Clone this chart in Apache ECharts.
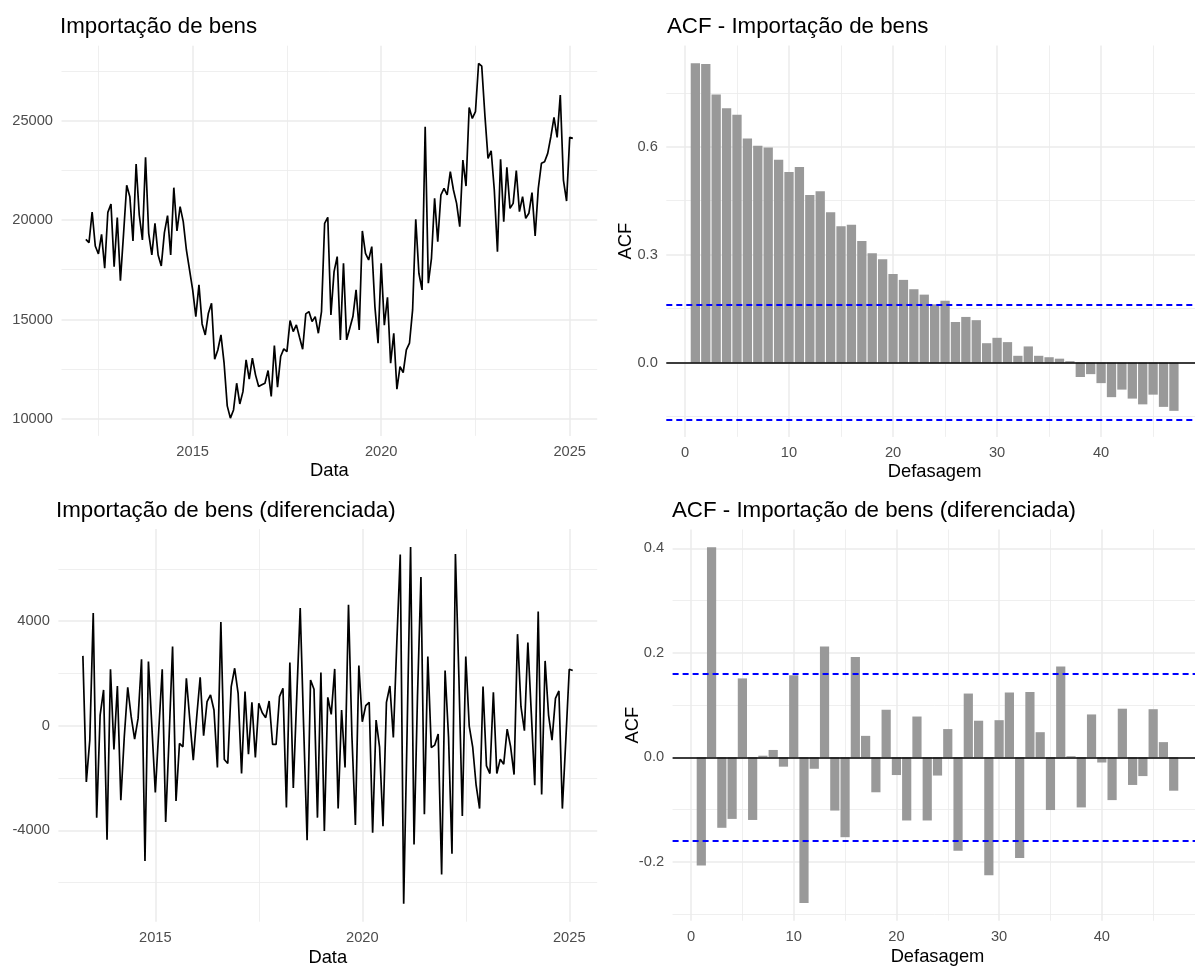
<!DOCTYPE html>
<html>
<head>
<meta charset="utf-8">
<script src="https://cdn.jsdelivr.net/npm/echarts@6/dist/echarts.min.js"></script>
<style>html,body{margin:0;padding:0;background:#fff}#c{width:1195px;height:967px}</style>
</head>
<body>
<div id="c"></div>
<script>
// ---------- DATA ----------
// Monthly series, Mar 2012 .. Feb 2025
const importStartYear = 2012, importStartMonth = 3;
const importValues = [
19029,18862,20402,18694,18292,19280,17573,20385,20804,17656,20117,16953,
19300,21741,21172,18945,22812,20251,18996,23147,19330,18242,19833,18242,
17690,19364,20218,18242,21624,19448,20670,19916,18493,17489,16485,15145,
16736,14777,14225,15313,15815,13003,13468,14225,12802,10659,10040,10452,
11795,10754,11373,12969,11998,13052,12216,11630,11714,11798,12434,11128,
13690,11597,13137,13522,13388,14945,14393,14727,14108,13505,15280,15396,
14894,15145,14308,15400,19833,20134,15229,17405,18159,13975,17824,13975,
14560,15145,16485,14476,19448,18326,17991,18661,15648,13806,17824,14710,
16116,12802,14309,11496,12634,12333,13471,13806,15480,20033,17322,16485,
24688,16820,18075,21088,18912,21256,21590,21256,22427,21507,20837,19665,
23013,21707,25658,25106,25441,27868,27734,25273,23097,23482,21507,18410,
23047,19916,22645,20586,20837,22478,20419,21172,20084,20335,21373,19196,
21590,22846,22929,23348,24185,25156,24152,26278,22009,20954,24152,24101
];
// Differenced series, Apr 2013 .. Feb 2025
const diffStartYear = 2013, diffStartMonth = 4;
const diffValues = [
2671,-2147,-550,4307,-3515,409,1367,-4358,2160,-907,1521,-2850,
-422,1470,345,-511,281,2543,-5176,2454,-38,-2556,-166,2160,
-3681,-422,3029,-2876,-677,-805,1815,217,-1316,345,1853,-383,
920,1176,601,-1598,3962,-1291,-1444,1495,2198,1240,-1828,1304,
-1086,895,-1214,856,498,307,946,-716,-716,1112,1431,-3131,
2415,-2377,1112,4498,-38,-4383,1751,1393,-3515,2032,-4026,1086,
434,2173,-3169,601,-1598,4626,-422,-3796,2300,153,767,895,
-4090,217,-805,-3847,895,1521,-447,3157,6543,-6812,-166,6837,
-4537,1112,5687,-3387,2645,-831,-741,-320,-5687,2109,-422,-4895,
6569,1879,-3451,2645,-13,-805,-2275,-3169,1495,-1534,-1828,1278,
-1828,-1278,-1470,-128,-805,-1866,3502,728,-192,3182,473,-2275,
4371,-2633,2479,409,-550,1048,1329,-3169,-550,2160,2109
];
// ACF values, lags 1..47
const acfLevel = [0.832,0.830,0.745,0.707,0.689,0.623,0.603,0.598,0.564,0.530,
0.544,0.466,0.476,0.418,0.379,0.383,0.338,0.304,0.287,0.246,
0.230,0.204,0.189,0.162,0.172,0.113,0.127,0.118,0.054,0.069,
0.057,0.019,0.045,0.019,0.015,0.011,0.004,-0.040,-0.032,-0.057,
-0.096,-0.075,-0.100,-0.116,-0.089,-0.123,-0.134];
const acfDiff = [-0.207,0.402,-0.135,-0.118,0.151,-0.120,0.003,0.014,-0.018,0.157,
-0.279,-0.022,0.212,-0.102,-0.153,0.192,0.041,-0.067,0.091,-0.034,
-0.121,0.078,-0.121,-0.035,0.054,-0.179,0.122,0.070,-0.226,0.071,
0.124,-0.193,0.125,0.048,-0.101,0.174,0.002,-0.096,0.082,-0.010,
-0.082,0.093,-0.053,-0.036,0.092,0.029,-0.064];
const ciLevel = 0.157;
const ciDiff = 0.164;

// tick labels / grid breaks
const yearMajor = [2015, 2020, 2025];
const yearMinor = [2012.5, 2017.5, 2022.5];
const levelMajor = [10000, 15000, 20000, 25000];
const levelMinor = [12500, 17500, 22500, 27500];
const diffMajor = [-4000, 0, 4000];
const diffMinor = [-6000, -2000, 2000, 6000];
const lagMajor = [0, 10, 20, 30, 40];
const lagMinor = [5, 15, 25, 35, 45];
const acfLevelMajor = [0.0, 0.3, 0.6];
const acfLevelMinor = [-0.15, 0.15, 0.45, 0.75];
const acfDiffMajor = [-0.2, 0.0, 0.2, 0.4];
const acfDiffMinor = [-0.3, -0.1, 0.1, 0.3];

const titles = ['Importação de bens', 'ACF - Importação de bens',
  'Importação de bens (diferenciada)', 'ACF - Importação de bens (diferenciada)'];

// ---------- BUILD ----------
const FONT = '"Liberation Sans", Arial, Helvetica, sans-serif';
const levelPts = importValues.map((v, i) => [importStartYear + (importStartMonth - 1 + i) / 12, v]);
const diffPts = diffValues.map((v, i) => [diffStartYear + (diffStartMonth - 1 + i) / 12, v]);
const acfLevelPts = acfLevel.map((v, i) => [i + 1, v]);
const acfDiffPts = acfDiff.map((v, i) => [i + 1, v]);

function expand(vals, extra) {
  const all = vals.concat(extra || []);
  const lo = Math.min(...all), hi = Math.max(...all), r = hi - lo;
  return [lo - 0.05 * r, hi + 0.05 * r];
}
const xLevel = expand(levelPts.map(p => p[0]));
const xDiff = expand(diffPts.map(p => p[0]));
const yLevel = expand(importValues);
const yDiff = expand(diffValues);
const xLag = expand([0.55, acfLevel.length + 0.45]);
const yAcfLevel = expand(acfLevel, [0, ciLevel, -ciLevel]);
const yAcfDiff = expand(acfDiff, [0, ciDiff, -ciDiff]);

const intFmt = v => String(Math.round(v));
const dec1 = v => (Math.abs(v) < 1e-9 ? 0 : v).toFixed(1);

function axes(dim, gridIndex, ext, majors, minors, fmt, name, nameGap) {
  const base = { type: 'value', gridIndex, min: ext[0], max: ext[1], scale: true,
    axisLine: { show: false } };
  const minor = Object.assign({}, base, {
    axisTick: { show: false, customValues: minors },
    axisLabel: { show: false },
    splitLine: { show: true, lineStyle: { color: '#ebebeb', width: 0.8 } }
  });
  const major = Object.assign({}, base, {
    axisTick: { show: false, customValues: majors },
    axisLabel: { show: true, customValues: majors, formatter: fmt, color: '#4d4d4d',
      fontSize: 14.67, fontFamily: FONT, margin: dim === 'x' ? 9 : 8.5 },
    splitLine: { show: true, lineStyle: { color: '#ebebeb', width: 1.5 } }
  });
  if (name) {
    Object.assign(major, { name, nameLocation: 'middle', nameGap, nameMoveOverlap: false,
      nameTextStyle: { color: '#000', fontSize: 18.33, fontFamily: FONT } });
  }
  if (dim === 'x') { minor.position = 'bottom'; major.position = 'bottom'; }
  else { minor.position = 'left'; major.position = 'left'; }
  return [minor, major];
}

const xAxis = [].concat(
  axes('x', 0, xLevel, yearMajor, yearMinor, intFmt, 'Data', 26.5),
  axes('x', 1, xLag, lagMajor, lagMinor, intFmt, 'Defasagem', 26),
  axes('x', 2, xDiff, yearMajor, yearMinor, intFmt, 'Data', 27),
  axes('x', 3, xLag, lagMajor, lagMinor, intFmt, 'Defasagem', 27)
);
const yAxis = [].concat(
  axes('y', 0, yLevel, levelMajor, levelMinor, intFmt),
  axes('y', 1, yAcfLevel, acfLevelMajor, acfLevelMinor, dec1, 'ACF', 31),
  axes('y', 2, yDiff, diffMajor, diffMinor, intFmt),
  axes('y', 3, yAcfDiff, acfDiffMajor, acfDiffMinor, dec1, 'ACF', 31)
);

function refLines(ci) {
  return {
    symbol: ['none', 'none'], silent: true, animation: false,
    label: { show: false }, emphasis: { disabled: true },
    data: [
      { yAxis: ci, lineStyle: { color: '#0000ff', width: 1.8, type: [6, 4] } },
      { yAxis: -ci, lineStyle: { color: '#0000ff', width: 1.8, type: [6, 4] } },
      { yAxis: 0, lineStyle: { color: '#000000', width: 1.6, type: 'solid' } }
    ]
  };
}

const option = {
  backgroundColor: '#ffffff',
  animation: false,
  title: [
    { text: titles[0], left: 60, top: 15.5 },
    { text: titles[1], left: 667, top: 15.5 },
    { text: titles[2], left: 56, top: 500 },
    { text: titles[3], left: 672, top: 500 }
  ].map(t => Object.assign(t, { padding: 0,
    textStyle: { color: '#000', fontSize: 22.3, fontWeight: 'normal', fontFamily: FONT } })),
  grid: [
    { left: 61.5, top: 45.7, width: 535.7, height: 390.2, outerBoundsMode: 'none', containLabel: false },
    { left: 666.3, top: 45.5, width: 536.7, height: 391.4, outerBoundsMode: 'none', containLabel: false },
    { left: 58.4, top: 529.1, width: 538.8, height: 392.6, outerBoundsMode: 'none', containLabel: false },
    { left: 672.6, top: 529.5, width: 529.8, height: 391.3, outerBoundsMode: 'none', containLabel: false }
  ],
  xAxis, yAxis,
  series: [
    { type: 'line', xAxisIndex: 1, yAxisIndex: 1, data: levelPts, showSymbol: false,
      lineStyle: { color: '#000', width: 1.7 }, silent: true },
    { type: 'bar', xAxisIndex: 3, yAxisIndex: 3, data: acfLevelPts, barWidth: 9.3,
      itemStyle: { color: '#999999' }, silent: true, markLine: refLines(ciLevel) },
    { type: 'line', xAxisIndex: 5, yAxisIndex: 5, data: diffPts, showSymbol: false,
      lineStyle: { color: '#000', width: 1.7 }, silent: true },
    { type: 'bar', xAxisIndex: 7, yAxisIndex: 7, data: acfDiffPts, barWidth: 9.2,
      itemStyle: { color: '#999999' }, silent: true, markLine: refLines(ciDiff) }
  ]
};

const chart = echarts.init(document.getElementById('c'), null, { renderer: 'canvas', width: 1195, height: 967 });
chart.setOption(option);
</script>
</body>
</html>
